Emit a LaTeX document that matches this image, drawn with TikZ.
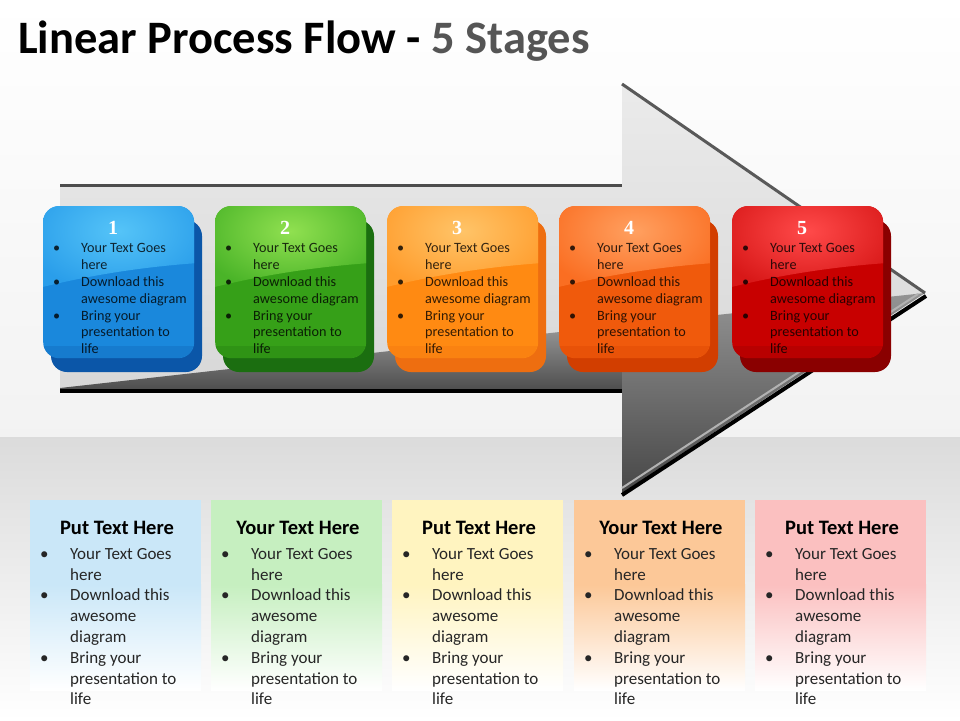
\documentclass[tikz,border=0pt]{standalone}
\usepackage{fontspec}
\setmainfont{Carlito}
\newfontfamily\numfont{Liberation Serif}
\definecolor{side1}{HTML}{0B56A8}\definecolor{base1}{HTML}{1A88DC}\definecolor{upper1}{HTML}{2A9EEA}\definecolor{spot1}{HTML}{55C4F8}
\definecolor{side2}{HTML}{1B6E10}\definecolor{base2}{HTML}{36A018}\definecolor{upper2}{HTML}{4AB428}\definecolor{spot2}{HTML}{90E050}
\definecolor{side3}{HTML}{EE6E10}\definecolor{base3}{HTML}{FF8A12}\definecolor{upper3}{HTML}{FF9C2C}\definecolor{spot3}{HTML}{FFC468}
\definecolor{side4}{HTML}{D23E00}\definecolor{base4}{HTML}{F05A0C}\definecolor{upper4}{HTML}{FA6E22}\definecolor{spot4}{HTML}{FFA060}
\definecolor{side5}{HTML}{8A0000}\definecolor{base5}{HTML}{C80000}\definecolor{upper5}{HTML}{D81818}\definecolor{spot5}{HTML}{FF4A4A}
\definecolor{card1}{HTML}{CAE7F8}\definecolor{card2}{HTML}{C6EFC0}\definecolor{card3}{HTML}{FFF4C0}\definecolor{card4}{HTML}{FCC898}\definecolor{card5}{HTML}{FBC0C0}
\definecolor{titlegray}{HTML}{555555}
\newcommand\boxlist{\begin{tabular}{@{}p{28pt}@{}l@{}}\textbullet & Your Text Goes\\ & here\\ \textbullet & Download this\\ & awesome diagram\\ \textbullet & Bring your\\ & presentation to\\ & life\end{tabular}}
\newcommand\cardlist{\begin{tabular}{@{}p{30pt}@{}l@{}}\textbullet & Your Text Goes\\ & here\\ \textbullet & Download this\\ & awesome\\ & diagram\\ \textbullet & Bring your\\ & presentation to\\ & life\end{tabular}}
\tikzset{
  face/.style={minimum width=151pt, minimum height=152pt, inner sep=0pt, rounded corners=16pt, draw=none},
  numlabel/.style={font=\numfont\bfseries\fontsize{20}{20}\selectfont, text=white, inner sep=0pt},
  boxtxt/.style={font=\fontsize{14.2}{16.8}\selectfont, text=black, text opacity=0.8, inner sep=0pt},
  cardhead/.style={font=\bfseries\fontsize{20.5}{22}\selectfont, text=black, inner sep=0pt},
  cardtxt/.style={font=\fontsize{17}{20.8}\selectfont, text=black!85, inner sep=0pt},
}
\newcommand\stagebox[2]{%
  \fill[side#1, rounded corners=16pt] (#2+8,220) rectangle (#2+159,372);
  \node[face, fill=base#1, anchor=north west] (s#1) at (#2,206) {};
  \begin{scope}
    \clip[rounded corners=16pt] (#2,206) rectangle (#2+151,358);
    \shade[inner color=spot#1, outer color=upper#1] (#2-20,170) -- (#2+171,170) -- (#2+171,262) .. controls (#2+100,266) and (#2+40,276) .. (#2-20,292) -- cycle;
    \fill[side#1, opacity=0.25] (#2,346) rectangle (#2+151,358);
  \end{scope}
  \node[numlabel, anchor=base] (n#1) at (#2+70,234) {#1};
  \node[boxtxt, anchor=north west] (t#1) at (#2+10,241) {\boxlist};
}
\newcommand\cardbox[3]{%
  \fill[card#1] (#2,500) rectangle (#2+171,585);
  \shade[top color=card#1, bottom color=white] (#2,584.5) rectangle (#2+171,690);
  \node[minimum width=171pt, minimum height=205pt, inner sep=0pt, anchor=north west] (c#1) at (#2,500) {};
  \node[cardhead, anchor=base] (h#1) at (#2+87,534) {#3};
  \node[cardtxt, anchor=north west] (l#1) at (#2+10,544.5) {\cardlist};
}
\begin{document}
\begin{tikzpicture}[x=1pt, y=-1pt]
\useasboundingbox (0,0) rectangle (960,720);
% background
\shade[top color=white, bottom color=black!5] (0,0) rectangle (960,437);
\shade[top color=black!14, bottom color=white] (0,437) rectangle (960,720);
% arrow
\shade[top color=black!8, bottom color=black!18] (60,185) -- (622,185) -- (622,84) -- (925,293) -- (622,493) -- (622,390) -- (60,390) -- cycle;
\shade[top color=black!40, bottom color=black!70] (60,388) -- (622,325) -- (622,391) -- (60,391) -- cycle;
\shade[top color=black!42, bottom color=black!72] (622,325) -- (925,293) -- (622,493) -- cycle;
\draw[black!70, line width=3pt] (60,185.5) -- (622,185.5);
\draw[black!65, line width=3pt] (622,84) -- (925,293);
\draw[black!30, line width=2pt] (622,488) -- (918,294);
\draw[black, line width=4pt] (60,391) -- (622,391);
\draw[black, line width=4pt] (622,495) -- (926,296);
% stage boxes
\stagebox{1}{43}
\stagebox{2}{215}
\stagebox{3}{387}
\stagebox{4}{559}
\stagebox{5}{732}
% cards
\cardbox{1}{30}{Put Text Here}
\cardbox{2}{211}{Your Text Here}
\cardbox{3}{392}{Put Text Here}
\cardbox{4}{574}{Your Text Here}
\cardbox{5}{755}{Put Text Here}
% title
\node[anchor=base west, inner sep=0pt, font=\bfseries\fontsize{46.5}{50}\selectfont] (title) at (18,53) {Linear Process Flow - \textcolor{titlegray}{5 Stages}};
\end{tikzpicture}
\end{document}
